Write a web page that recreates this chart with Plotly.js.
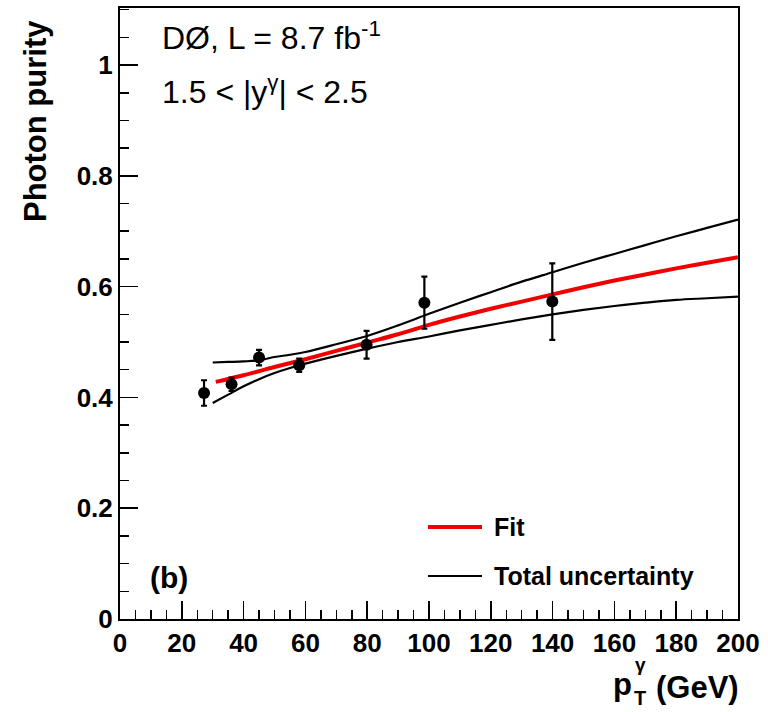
<!DOCTYPE html>
<html>
<head>
<meta charset="utf-8">
<script src="https://cdn.plot.ly/plotly-3.0.1.min.js"></script>
<style>html,body{margin:0;padding:0;background:#fff;}#plot{width:768px;height:712px;}</style>
</head>
<body>
<div id="plot"></div>
<script>
// Data points (photon pT in GeV, purity, uncertainty)
const ptData = [27.2, 36.1, 45.0, 58.0, 79.8, 98.5, 139.9];
const purity = [0.408, 0.424, 0.472, 0.458, 0.495, 0.571, 0.573];
const purityErr = [0.023, 0.012, 0.014, 0.012, 0.025, 0.047, 0.069];

// Fit curve
const fitX = [31, 40, 50, 60, 70, 80, 90, 100, 110, 120, 130, 140, 150, 160, 170, 180, 190, 200];
const fitY = [0.428, 0.440, 0.455, 0.469, 0.484, 0.499, 0.514, 0.531, 0.546, 0.560, 0.573, 0.586, 0.599, 0.611, 0.622, 0.633, 0.643, 0.653];

// Total uncertainty band edges
const bandX = [30, 35, 40, 45, 50, 55, 60, 70, 80, 90, 100, 110, 120, 130, 140, 150, 160, 170, 180, 190, 200];
const upperY = [0.463, 0.464, 0.465, 0.467, 0.473, 0.477, 0.482, 0.496, 0.511, 0.530, 0.551, 0.571, 0.590, 0.609, 0.626, 0.643, 0.659, 0.675, 0.691, 0.706, 0.721];
const lowerY = [0.390, 0.405, 0.420, 0.433, 0.444, 0.453, 0.461, 0.475, 0.488, 0.500, 0.510, 0.521, 0.531, 0.541, 0.550, 0.558, 0.565, 0.571, 0.576, 0.579, 0.582];

const xTicks = [0, 20, 40, 60, 80, 100, 120, 140, 160, 180, 200];
const yTicks = [0, 0.2, 0.4, 0.6, 0.8, 1];
const yTickText = ['0', '0.2', '0.4', '0.6', '0.8', '1'];

const FONT = 'Liberation Sans, Arial, Helvetica, sans-serif';
const RED = '#f00000';

const traces = [
  {x: bandX, y: upperY, mode: 'lines', line: {color: '#000', width: 2.2, shape: 'spline'}, showlegend: false, hoverinfo: 'skip'},
  {x: bandX, y: lowerY, mode: 'lines', line: {color: '#000', width: 2.2, shape: 'spline'}, showlegend: false, hoverinfo: 'skip'},
  {x: fitX, y: fitY, mode: 'lines', line: {color: RED, width: 4, shape: 'spline'}, showlegend: false},
  {x: ptData, y: purity, mode: 'markers', marker: {color: '#000', size: 12, symbol: 'circle'},
   error_y: {type: 'data', array: purityErr, visible: true, color: '#000', thickness: 2.2, width: 3},
   showlegend: false}
];

const px2x = p => (p - 120) / 618;
const py2y = p => (619 - p) / 611;

const layout = {
  width: 768, height: 712,
  margin: {l: 120, r: 30, t: 8, b: 93},
  paper_bgcolor: '#fff', plot_bgcolor: '#fff',
  showlegend: false,
  xaxis: {
    range: [0, 200], tickvals: xTicks, ticktext: xTicks.map(String),
    ticks: 'inside', ticklen: 18, tickwidth: 1.5, tickcolor: '#000',
    minor: {dtick: 5, ticks: 'inside', ticklen: 9, tickwidth: 1.5, tickcolor: '#000', showgrid: false},
    showline: true, mirror: true, linecolor: '#000', linewidth: 2,
    showgrid: false, zeroline: false,
    tickfont: {family: FONT, size: 26, color: '#000', weight: 'bold'}
  },
  yaxis: {
    range: [0, 1.103], tickvals: yTicks, ticktext: yTickText,
    ticks: 'inside', ticklen: 18, tickwidth: 1.5, tickcolor: '#000',
    minor: {dtick: 0.05, ticks: 'inside', ticklen: 9, tickwidth: 1.5, tickcolor: '#000', showgrid: false},
    showline: true, mirror: true, linecolor: '#000', linewidth: 2,
    showgrid: false, zeroline: false,
    tickfont: {family: FONT, size: 26, color: '#000', weight: 'bold'}
  },
  shapes: [
    {type: 'line', xref: 'paper', yref: 'paper', x0: px2x(428), x1: px2x(482), y0: py2y(527), y1: py2y(527), line: {color: RED, width: 4}},
    {type: 'line', xref: 'paper', yref: 'paper', x0: px2x(428), x1: px2x(482), y0: py2y(576), y1: py2y(576), line: {color: '#000', width: 2.2}}
  ],
  annotations: [
    {xref: 'paper', yref: 'paper', x: px2x(160), y: py2y(36), xanchor: 'left', yanchor: 'middle', showarrow: false,
     text: 'DØ, L = 8.7 fb<sup>-1</sup>', font: {family: FONT, size: 32, color: '#000'}},
    {xref: 'paper', yref: 'paper', x: px2x(160), y: py2y(90), xanchor: 'left', yanchor: 'middle', showarrow: false,
     text: '1.5 < |y<sup>γ</sup>| < 2.5', font: {family: FONT, size: 32, color: '#000'}},
    {xref: 'paper', yref: 'paper', x: px2x(148), y: py2y(577), xanchor: 'left', yanchor: 'middle', showarrow: false,
     text: '(b)', font: {family: FONT, size: 30, color: '#000', weight: 'bold'}},
    {xref: 'paper', yref: 'paper', x: px2x(492), y: py2y(527), xanchor: 'left', yanchor: 'middle', showarrow: false,
     text: 'Fit', font: {family: FONT, size: 25, color: '#000', weight: 'bold'}},
    {xref: 'paper', yref: 'paper', x: px2x(492), y: py2y(576), xanchor: 'left', yanchor: 'middle', showarrow: false,
     text: 'Total uncertainty', font: {family: FONT, size: 25, color: '#000', weight: 'bold'}},
    {xref: 'paper', yref: 'paper', x: px2x(36), y: py2y(121), xanchor: 'center', yanchor: 'middle', showarrow: false,
     textangle: -90, text: 'Photon purity', font: {family: FONT, size: 31, color: '#000', weight: 'bold'}},
    {xref: 'paper', yref: 'paper', x: px2x(741), y: py2y(687), xanchor: 'right', yanchor: 'middle', showarrow: false,
     text: '(GeV)', font: {family: FONT, size: 31, color: '#000', weight: 'bold'}},
    {xref: 'paper', yref: 'paper', x: px2x(611), y: py2y(685), xanchor: 'left', yanchor: 'middle', showarrow: false,
     text: 'p', font: {family: FONT, size: 31, color: '#000', weight: 'bold'}},
    {xref: 'paper', yref: 'paper', x: px2x(632), y: py2y(698), xanchor: 'left', yanchor: 'middle', showarrow: false,
     text: 'T', font: {family: FONT, size: 20, color: '#000', weight: 'bold'}},
    {xref: 'paper', yref: 'paper', x: px2x(633), y: py2y(664), xanchor: 'left', yanchor: 'middle', showarrow: false,
     text: 'γ', font: {family: FONT, size: 19, color: '#000', weight: 'bold'}}
  ]
};

Plotly.newPlot('plot', traces, layout, {displayModeBar: false, staticPlot: true});
</script>
</body>
</html>
